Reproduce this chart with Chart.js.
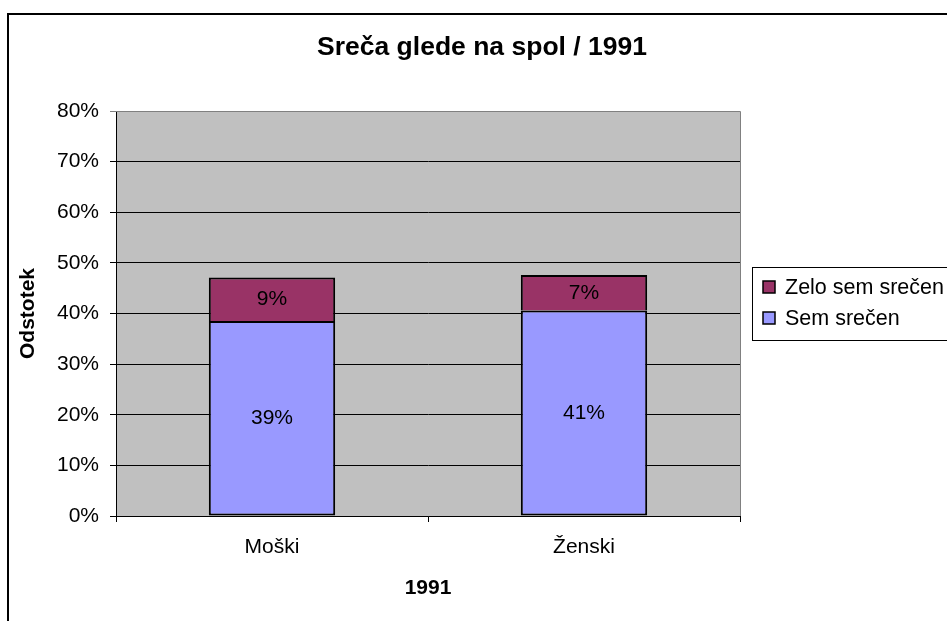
<!DOCTYPE html>
<html>
<head>
<meta charset="utf-8">
<script src="https://cdn.jsdelivr.net/npm/chart.js@4"></script>
<style>
  html, body { margin: 0; padding: 0; background: #fff; }
  #wrap { width: 947px; height: 621px; }
</style>
</head>
<body>
<div id="wrap"><canvas id="myChart" width="947" height="621"></canvas></div>
<script>
const categories = ['Moški', 'Ženski'];
const semSrecen = [38.5, 40.6];
const zeloSemSrecen = [8.6, 7.0];
const yTicks = [0, 10, 20, 30, 40, 50, 60, 70, 80];

const FONT = '"Liberation Sans", Arial, sans-serif';

const decor = {
    id: 'decor',
    beforeDraw(chart) {
        const c = chart.ctx, a = chart.chartArea;
        c.save();
        c.fillStyle = '#fff';
        c.fillRect(0, 0, chart.width, chart.height);
        // outer frame
        c.strokeStyle = '#000';
        c.lineWidth = 2;
        c.strokeRect(8, 14, 2000, 2000);
        // plot background
        c.fillStyle = '#C0C0C0';
        c.fillRect(a.left, a.top, a.right - a.left, a.bottom - a.top);
        // title
        c.fillStyle = '#000';
        c.font = 'bold 26.5px ' + FONT;
        c.textAlign = 'center';
        c.textBaseline = 'alphabetic';
        c.fillText('Sreča glede na spol / 1991', 482, 55);
        c.restore();
    },
    beforeDatasetsDraw(chart) {
        const c = chart.ctx, a = chart.chartArea;
        c.save();
        c.strokeStyle = '#808080';
        c.lineWidth = 1;
        c.beginPath();
        c.moveTo(a.left, a.top + 0.5);
        c.lineTo(a.right + 0.5, a.top + 0.5);
        c.lineTo(a.right + 0.5, a.bottom);
        c.stroke();
        c.restore();
    },
    afterDatasetsDraw(chart) {
        const c = chart.ctx;
        c.save();
        c.fillStyle = '#000';
        c.font = '21px ' + FONT;
        c.textAlign = 'center';
        c.textBaseline = 'middle';
        chart.data.datasets.forEach((ds, i) => {
            chart.getDatasetMeta(i).data.forEach((el, j) => {
                c.fillText(Math.round(ds.data[j]) + '%', el.x, (el.y + el.base) / 2);
            });
        });
        // legend
        c.strokeStyle = '#000';
        c.lineWidth = 1;
        c.strokeRect(752.5, 267.5, 400, 73);
        c.font = '21.5px ' + FONT;
        const items = chart.data.datasets.slice().reverse();
        items.forEach((ds, k) => {
            const y = 287 + k * 31;
            c.fillStyle = ds.backgroundColor;
            c.fillRect(763, y - 6, 12, 12);
            c.lineWidth = 1.5;
            c.strokeRect(763, y - 6, 12, 12);
            c.fillStyle = '#000';
            c.textAlign = 'left';
            c.fillText(ds.label, 785, y + 1);
        });
        c.restore();
    }
};

const ctx = document.getElementById('myChart').getContext('2d');

const config = {
    type: 'bar',
    data: {
        labels: categories,
        datasets: [{
            label: 'Sem srečen',
            data: semSrecen,
            backgroundColor: '#9999FF',
            borderColor: '#000',
            borderWidth: 2,
            borderSkipped: false
        }, {
            label: 'Zelo sem srečen',
            data: zeloSemSrecen,
            backgroundColor: '#993366',
            borderColor: '#000',
            borderWidth: 2,
            borderSkipped: 'bottom'
        }]
    },
    options: {
        responsive: false,
        animation: false,
        layout: { padding: { top: 111, left: 0, right: 207, bottom: 0 } },
        datasets: { bar: { categoryPercentage: 1, barPercentage: 0.405 } },
        plugins: { legend: { display: false }, title: { display: false }, tooltip: { enabled: false } },
        scales: {
            x: {
                stacked: true,
                afterFit(s) { s.height = 105; },
                grid: { drawOnChartArea: false, tickLength: 6, color: '#000', offset: true },
                border: { color: '#000' },
                ticks: { color: '#000', padding: 13, font: { family: FONT, size: 21 } },
                title: { display: true, text: '1991', color: '#000', padding: { top: 0, bottom: 20 },
                         font: { family: FONT, size: 21, weight: 'bold' } }
            },
            y: {
                stacked: true,
                min: 0,
                max: 80,
                afterFit(s) { s.width = 116; },
                afterBuildTicks(s) { s.ticks = yTicks.map(v => ({ value: v })); },
                grid: { tickLength: 6, color: c => c.tick && c.tick.value === 80 ? '#808080' : '#000' },
                border: { color: '#000' },
                ticks: { color: '#000', padding: 11, font: { family: FONT, size: 21 }, callback: v => v + '%' },
                title: { display: true, text: 'Odstotek', color: '#000', padding: { top: 16, bottom: 0 },
                         font: { family: FONT, size: 21, weight: 'bold' } }
            }
        }
    },
    plugins: [decor]
};

const myChart = new Chart(ctx, config);
</script>
</body>
</html>
